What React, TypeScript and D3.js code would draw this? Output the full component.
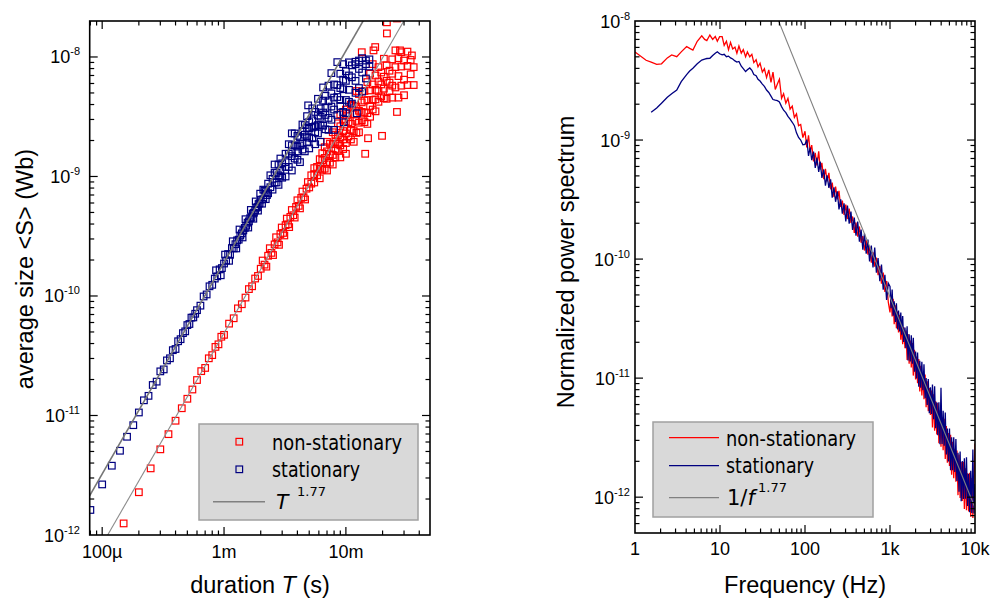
import * as d3 from "d3";

// avalanche durations in µs and average sizes in pWb (1e-12 Wb)
const stationaryAvalanches: [number, number][] = [
  [80, 1.62], [100, 2.65], [120, 3.8], [140, 5.07], [160, 6.64], [180, 8.3],
  [200, 10.6], [220, 13.4], [240, 14.6], [260, 18.0], [280, 19.2], [300, 23.4], [320, 24.3], [340, 28.9],
  [360, 30.1], [380, 35.2], [400, 36.0], [420, 41.8], [440, 43.5], [460, 48.9], [480, 50.6], [500, 57.1],
  [520, 58.3], [540, 65.9], [560, 66.2], [580, 71.0], [600, 76.1], [640, 83.0], [680, 99.1], [720, 103],
  [760, 120.5], [800, 124], [840, 139.8], [860, 164], [880, 146.1], [920, 167], [940, 149], [960, 171.2],
  [1000, 186.9], [1020, 222], [1040, 198], [1080, 224.5], [1100, 197], [1120, 221], [1160, 251.7], [1180, 287],
  [1200, 250.2], [1240, 271.3], [1260, 250], [1280, 292], [1320, 296], [1340, 360], [1360, 320.5], [1400, 334],
  [1420, 309], [1440, 354], [1480, 371.1], [1500, 439], [1520, 387], [1560, 411], [1580, 374], [1600, 421.2],
  [1640, 448], [1660, 525], [1680, 452.5], [1720, 489], [1740, 443], [1760, 497.5], [1800, 520], [1820, 618],
  [1840, 548], [1880, 555], [1900, 518], [1920, 588], [1960, 598.3], [1980, 718], [2000, 640], [2050, 592],
  [2100, 646], [2100, 776], [2150, 760], [2200, 741], [2200, 646], [2250, 699], [2300, 871], [2300, 724],
  [2400, 813], [2400, 1023], [2500, 955], [2500, 776], [2600, 1072], [2600, 891], [2600, 1259], [2700, 891],
  [2700, 1072], [2800, 1259], [2800, 1023], [2800, 851], [2900, 1122], [2900, 1413], [2900, 1000], [3000, 1288],
  [3000, 977], [3200, 1202], [3200, 1549], [3200, 1318], [3200, 1000], [3400, 1549], [3400, 1202], [3400, 1862],
  [3600, 1479], [3600, 1820], [3600, 1122], [3600, 1622], [3600, 2296], [3800, 1413], [3800, 1820], [3800, 2291],
  [4000, 1778], [4000, 1380], [4000, 2188], [4000, 1622], [4200, 2138], [4200, 1318], [4200, 1820],
  [4400, 1679], [4400, 2371], [4400, 2723], [4400, 1884], [4600, 2239], [4600, 1622], [4600, 2692],
  [4800, 2163], [4800, 1928], [4800, 2541], [4800, 3199], [4900, 3936], [5000, 2541], [5000, 1718], [5000, 2851],
  [5000, 2113], [5300, 2089], [5300, 2951], [5300, 2570], [5300, 3715], [5600, 2630], [5600, 1862], [5600, 3467],
  [5600, 2344], [5900, 3236], [5900, 2291], [5900, 4467], [5900, 2692], [6200, 2692], [6200, 3715], [6200, 1950],
  [6200, 3162], [6500, 4315], [6500, 2661], [6500, 3428], [6500, 5559], [6800, 2483], [6800, 3758], [6800, 3273],
  [6800, 4732], [7200, 4266], [7200, 3090], [7200, 5754], [7200, 2455], [7600, 3846], [7600, 4955], [7600, 2985],
  [7600, 7328], [8000, 3631], [8000, 5888], [8000, 4571], [8000, 2455], [8500, 4624], [8500, 3273], [8500, 5821],
  [8500, 9057], [9000, 3890], [9000, 5495], [9000, 7244], [9000, 4365], [9500, 5370], [9500, 3467], [9500, 8710],
  [9500, 6457], [9600, 2840], [10000, 4365], [10000, 6310], [10000, 7586], [10000, 3388], [10600, 5309],
  [10600, 9016], [10600, 4217], [10600, 6998], [11200, 6761], [11200, 4074], [11200, 8511], [12000, 6310],
  [12000, 8710], [12000, 5012], [12000, 9120], [12300, 3377], [12800, 7943], [12800, 5495], [12800, 9333],
  [13600, 7413], [13600, 9772], [13600, 5129], [14600, 8710], [14600, 6607], [14600, 9333], [15600, 8318],
  [15600, 9550],
];

const nonStationaryAvalanches: [number, number][] = [
  [150, 1.25], [200, 2.28], [250, 3.61], [300, 5.21], [350, 6.98], [400, 9.04], [450, 11.5], [500, 13.8],
  [550, 16.5], [600, 19.8], [650, 23.5], [700, 25.0], [750, 30.1], [800, 32.0], [850, 37.5], [900, 39.4],
  [950, 45.6], [1000, 47.3], [1100, 58.7], [1200, 65.1], [1300, 78.8], [1400, 85.3], [1500, 97.0], [1600, 114.2],
  [1700, 120.6], [1800, 140], [1900, 147.2], [2000, 169], [2075, 198], [2150, 183], [2225, 176], [2300, 217],
  [2375, 251], [2450, 229.5], [2525, 220], [2600, 270.2], [2675, 310], [2750, 281], [2825, 268], [2900, 330],
  [2975, 374], [3050, 337], [3125, 321], [3200, 392], [3275, 444], [3350, 398], [3425, 377], [3500, 459],
  [3600, 524], [3700, 474], [3800, 453], [3900, 556], [4000, 632], [4100, 568], [4200, 541], [4300, 662],
  [4400, 748], [4500, 670], [4625, 642], [4750, 790], [4875, 897], [5000, 810],
  [5200, 871], [5200, 1023], [5500, 1047], [5500, 891], [5500, 1175], [5800, 1023], [5800, 1202],
  [6100, 1161], [6100, 966], [6100, 1396], [6400, 1365], [6400, 1135], [6400, 1567], [6700, 1161], [6700, 1429],
  [6700, 1758], [7000, 1622], [7000, 1318], [7000, 1122], [7000, 1950], [7400, 1531], [7400, 1884], [7400, 1303],
  [7800, 1862], [7800, 1514], [7800, 2344], [7800, 1259], [8200, 1698], [8200, 2239], [8200, 1445], [8200, 1950],
  [8600, 2213], [8600, 1641], [8600, 2786], [8600, 1884], [9000, 1820], [9000, 2630], [9000, 2138], [9000, 1445],
  [9000, 3311], [9500, 2399], [9500, 1698], [9500, 3020], [9500, 2042], [10000, 2291], [10000, 2884],
  [10000, 1905], [10000, 3631], [10000, 1549], [10500, 2851], [10500, 2163], [10500, 3350], [11000, 2042],
  [11000, 2754], [11000, 3981], [11000, 2455], [11600, 3311], [11600, 2399], [11600, 3890], [11600, 1950],
  [12200, 2917], [12200, 3846], [12200, 2317], [12200, 5188], [12800, 3548], [12800, 2818], [12800, 4898],
  [12800, 2344], [13500, 2951], [13500, 4169], [13500, 3467], [13500, 10960], [14200, 4315], [14200, 2851],
  [14200, 5188], [14200, 3428], [14400, 1549], [15000, 3388], [15000, 4365], [15000, 6166], [15000, 2754],
  [15200, 2089], [15800, 5248], [15800, 3890], [15800, 7244], [15800, 3162], [16600, 4365], [16600, 5888],
  [16600, 3631], [16600, 8710], [16850, 11350], [17400, 12100], [17500, 5309], [17500, 3508], [17500, 6998],
  [17500, 4416], [18500, 4217], [18500, 6237], [18500, 8222], [18500, 5188], [19500, 5888], [19500, 7413],
  [19500, 4677], [19800, 2188], [20500, 6839], [20500, 4519], [20500, 9661], [20500, 5433], [21600, 4467],
  [21600, 6310], [21600, 8511], [21700, 19500], [21700, 15740], [22800, 7674], [22800, 5188], [22800, 6095],
  [24000, 7244], [24000, 4571], [24000, 9550], [24000, 5754], [25500, 5559], [25500, 8222], [25500, 11350],
  [26250, 3467], [26250, 21000], [27000, 6918], [27000, 4571], [27000, 9772], [27800, 11350], [28500, 8318],
  [28500, 5754], [28500, 10960], [30000, 6457], [30000, 9333], [30000, 4786], [32000, 8414], [32000, 5821],
  [32000, 11090], [34000, 7161], [34000, 9441], [34800, 10300], [36000, 8222], [36000, 5821],
];

// frequency in Hz and normalized power in units of 1e-12
const nonStationarySpectrum: [number, number][] = [
  [1, 5500], [1.35, 4680], [1.55, 4520], [1.8, 4320], [2.05, 4370], [2.4, 4900], [2.7, 5190], [3.1, 5010],
  [3.5, 5500], [4.05, 6100], [4.4, 5890], [4.8, 5690], [5.4, 6760], [6.1, 7500], [6.6, 7000], [7, 6840],
  [7.6, 7620], [8.2, 7000], [8.8, 7410], [9.3, 6760], [9.9, 7380], [10.6, 7380], [11.2, 6240], [11.9, 6760],
  [12.6, 5750], [13.3, 6610], [14.1, 5820], [15, 6030], [15.8, 5370], [16.7, 6170], [17.8, 5370], [18.8, 5750],
  [20, 5010], [21, 5500], [22.4, 5010], [23.7, 5250], [25, 4470], [26.6, 4730], [28, 4120], [29.6, 4420],
  [31.5, 3720], [33.3, 3980], [35.3, 3350], [37.5, 3890], [39.8, 3050], [42, 3720], [44.7, 2660], [47.3, 2950],
  [50, 3240], [53, 2240], [56, 2450], [59.5, 2040], [63, 2240], [66.8, 1820], [70.8, 1930], [75, 1550],
  [79.4, 1660], [84, 1320], [89, 1350], [94.4, 1050],
  [100, 1186], [105, 865], [110, 1096], [115, 800], [120, 908], [126, 662], [132, 780], [138, 612], [145, 805],
  [151, 566], [158, 643], [166, 469], [174, 573], [182, 450], [191, 530], [200, 386], [209, 439], [219, 332],
  [229, 406], [240, 318], [251, 375], [263, 274], [275, 310], [288, 235], [302, 287], [316, 217], [331, 265],
  [347, 201], [363, 228], [380, 166], [398, 203], [417, 154], [437, 188], [457, 137], [479, 156], [501, 118],
  [525, 144], [550, 109], [575, 128], [603, 93.5], [631, 114], [661, 86.3], [692, 103], [724, 73.3],
  [759, 87.5], [794, 62.2], [832, 77.1], [871, 53.0], [912, 65.5], [955, 43.4],
  [1000, 35.6], [1030, 49.2], [1060, 32.9], [1090, 46.3], [1120, 28.4], [1160, 40.9], [1190, 26.2], [1230, 36.2],
  [1260, 24.2], [1300, 34.1], [1340, 21.0], [1370, 30.2], [1410, 19.3], [1450, 26.7], [1500, 17.8], [1540, 25.1],
  [1590, 14.2], [1630, 23.5], [1680, 13.2], [1730, 20.7], [1780, 12.3], [1830, 19.7], [1880, 10.5], [1940, 17.3],
  [2000, 9.73], [2050, 15.2], [2110, 9.04], [2180, 14.5], [2240, 7.73], [2300, 12.7], [2370, 7.16], [2440, 11.2],
  [2510, 6.65], [2590, 10.7], [2660, 5.69], [2740, 9.4], [2820, 5.28], [2900, 8.24], [2990, 4.9], [3070, 7.87],
  [3160, 3.85], [3260, 7.31], [3350, 3.61], [3450, 6.38], [3550, 3.37], [3650, 6.17], [3760, 2.84], [3870, 5.38],
  [3980, 2.65], [4100, 4.7], [4220, 2.48], [4340, 4.55], [4470, 2.09], [4600, 3.96], [4730, 1.95], [4870, 3.46],
  [5010, 1.83], [5160, 3.35], [5310, 1.54], [5460, 2.92], [5620, 1.44], [5790, 2.55], [5960, 1.35], [6130, 2.47],
  [6310, 1.04], [6490, 2.28], [6680, 0.984], [6880, 1.97], [7080, 0.927], [7290, 1.98], [7500, 0.796],
  [7720, 1.75], [7940, 0.776], [8180, 1.59], [8410, 0.757], [8660, 1.6], [8910, 0.684], [9170, 1.45],
  [9440, 0.668], [9720, 1.39], [10000, 2.82],
];

const stationarySpectrum: [number, number][] = [
  [1.55, 1710], [1.8, 1860], [2.05, 2040], [2.4, 2290], [2.7, 2450], [3.1, 2630], [3.5, 3090], [4.05, 3550],
  [4.4, 3800], [4.8, 4010], [5.4, 4370], [6.1, 4700], [6.6, 4790], [7, 4840], [7.6, 4860], [8.2, 5130],
  [8.8, 5370], [9.3, 5520], [9.9, 5310], [10.6, 5190], [11.2, 5250], [11.9, 5010], [12.6, 5070], [13.3, 4900],
  [14.1, 4790], [15, 4620], [15.8, 4520], [16.7, 4570], [17.8, 4170], [18.8, 3980], [20, 3760], [21, 3890],
  [22.4, 4030], [23.7, 3850], [25, 3550], [26.6, 3470], [28, 3240], [29.6, 3130], [31.5, 2950], [33.3, 2820],
  [35.3, 2630], [37.5, 2510], [39.8, 2340], [42, 2190], [44.7, 2160], [47.3, 2140], [50, 2090], [53, 1910],
  [56, 1780], [59.5, 1700], [63, 1580], [66.8, 1500], [70.8, 1410], [75, 1320], [79.4, 1150], [84, 1050],
  [89, 1000], [94.4, 912],
  [100, 920], [105, 1007], [110, 735], [115, 865], [120, 679], [126, 800], [132, 583], [138, 713], [145, 540],
  [151, 659], [158, 481], [166, 566], [174, 413], [182, 505], [191, 396], [200, 467], [209, 328], [219, 401],
  [229, 303], [240, 371], [251, 261], [263, 318], [275, 241], [288, 294], [302, 207], [316, 281], [331, 198],
  [347, 251], [363, 176], [380, 223], [398, 157], [417, 207], [437, 140], [457, 177], [479, 120], [501, 164],
  [525, 111], [550, 146], [575, 95.5], [603, 130], [631, 85.1], [661, 125], [692, 76.7], [724, 102], [759, 65.2],
  [794, 89.9], [832, 55.3], [871, 73.8], [912, 45.3], [955, 62.7],
  [1000, 59.0], [1030, 38.6], [1060, 55.6], [1090, 33.5], [1120, 44.3], [1160, 29.6], [1190, 42.6], [1230, 25.6],
  [1260, 36.9], [1300, 24.7], [1340, 35.5], [1370, 23.2], [1410, 33.3], [1450, 20.1], [1500, 26.6], [1540, 17.8],
  [1590, 27.2], [1630, 14.1], [1680, 23.3], [1730, 13.8], [1780, 22.9], [1830, 13.2], [1880, 21.8], [1940, 11.3],
  [2000, 16.7], [2050, 9.91], [2110, 16.4], [2180, 8.47], [2240, 14.0], [2300, 8.3], [2370, 13.7], [2440, 7.93],
  [2510, 13.1], [2590, 6.78], [2660, 10.0], [2740, 5.96], [2820, 9.84], [2900, 5.08], [2990, 8.39], [3070, 4.99],
  [3160, 8.83], [3260, 4.51], [3350, 8.55], [3450, 3.8], [3550, 6.28], [3650, 3.31], [3760, 6.28], [3870, 2.79],
  [3980, 8.3], [4100, 2.8], [4220, 5.31], [4340, 2.71], [4470, 5.14], [4600, 2.28], [4730, 3.77], [4870, 1.99],
  [5010, 3.78], [5160, 1.68], [5310, 3.18], [5460, 1.68], [5620, 3.19], [5790, 1.63], [5960, 3.08], [6130, 1.37],
  [6310, 2.36], [6490, 1.11], [6680, 2.42], [6880, 0.923], [7080, 2.01], [7290, 0.964], [7500, 2.12],
  [7720, 0.968], [7940, 2.16], [8180, 0.843], [8410, 1.57], [8660, 0.748], [8910, 1.67], [9170, 0.736],
  [9440, 2.51], [9720, 0.729], [10000, 1.29],
];

const durationTicks = [1e-4, 1e-3, 1e-2];
const durationTickLabels = ["100µ", "1m", "10m"];
const sizeTickExponents = [-12, -11, -10, -9, -8];
const frequencyTicks = [1, 10, 100, 1000, 10000];
const frequencyTickLabels = ["1", "10", "100", "1k", "10k"];
const powerTickExponents = [-12, -11, -10, -9, -8];

// power-law guides
const fitExponent = 1.77;
const stationaryPrefactor = 3.9e-5;
const nonStationaryPrefactor = 1.0e-5;
const spectrumPrefactor = 9.8e-6;

const RED = "#ff0000";
const NAVY = "#000080";
const GRAY = "#808080";
const AXIS_FONT = "'Liberation Sans', Arial, sans-serif";
const LEGEND_FONT = "'DejaVu Sans', Verdana, sans-serif";

type LogScale = d3.ScaleLogarithmic<number, number>;

function isDecade(v: number) {
  const l = Math.log10(v);
  return Math.abs(l - Math.round(l)) < 1e-6;
}

function Frame({ x, y }: { x: LogScale; y: LogScale }) {
  const [x0, x1] = x.range();
  const [yb, yt] = y.range();
  const xt = x.ticks().filter((v) => x(v) >= x0 + 0.5 && x(v) <= x1 - 0.5);
  const yTicks = y.ticks().filter((v) => y(v) <= yb - 0.5 && y(v) >= yt + 0.5);
  return (
    <g stroke="#000" strokeWidth={1.2} fill="none">
      {xt.map((v) => {
        const p = x(v);
        const len = isDecade(v) ? 8 : 4.5;
        return (
          <g key={"x" + v}>
            <line x1={p} x2={p} y1={yb} y2={yb - len} />
            <line x1={p} x2={p} y1={yt} y2={yt + len} />
          </g>
        );
      })}
      {yTicks.map((v) => {
        const p = y(v);
        const len = isDecade(v) ? 8 : 4.5;
        return (
          <g key={"y" + v}>
            <line x1={x0} x2={x0 + len} y1={p} y2={p} />
            <line x1={x1} x2={x1 - len} y1={p} y2={p} />
          </g>
        );
      })}
      <rect x={x0} y={yt} width={x1 - x0} height={yb - yt} strokeWidth={1.6} />
    </g>
  );
}

function PowerLabels({ y, exps, right }: { y: LogScale; exps: number[]; right: number }) {
  return (
    <g fontFamily={AXIS_FONT} fontSize={18} fill="#000" textAnchor="end">
      {exps.map((e) => (
        <text key={e} x={right} y={y(Math.pow(10, e)) + 6.5}>
          10
          <tspan fontSize={11} dy={-8}>
            {e}
          </tspan>
        </text>
      ))}
    </g>
  );
}

function Square({ cx, cy, color }: { cx: number; cy: number; color: string }) {
  return <rect x={cx - 3.3} y={cy - 3.3} width={6.6} height={6.6} fill="none" stroke={color} strokeWidth={1.2} />;
}

export default function App() {
  // left: average avalanche size vs duration
  const xL = d3.scaleLog().domain([7.9e-5, 4.9e-2]).range([89.7, 430]);
  const yL = d3.scaleLog().domain([1e-12, 2e-8]).range([535, 21]);
  // right: power spectra
  const xR = d3.scaleLog().domain([1, 1e4]).range([635, 975]);
  const yR = d3.scaleLog().domain([5e-13, 1e-8]).range([533, 21]);

  const fitLine = (pref: number) =>
    d3
      .line<number>()
      .x((t) => xL(t))
      .y((t) => yL(pref * Math.pow(t, fitExponent)))(xL.domain());

  const spectrumLine = d3
    .line<[number, number]>()
    .x((d) => xR(d[0]))
    .y((d) => yR(d[1] * 1e-12));

  const spectrumFit = d3
    .line<number>()
    .x((f) => xR(f))
    .y((f) => yR(spectrumPrefactor / Math.pow(f, fitExponent)))([20, 1e4]);

  return (
    <svg
      width={992}
      height={598}
      style={{ position: "absolute", left: 0, top: 0, background: "#fff" }}
    >
      <defs>
        <clipPath id="clipL">
          <rect x={89.7} y={21} width={430 - 89.7} height={535 - 21} />
        </clipPath>
        <clipPath id="clipR">
          <rect x={635} y={21} width={340} height={512} />
        </clipPath>
      </defs>

      {/* left panel */}
      <g clipPath="url(#clipL)">
        {nonStationaryAvalanches.map((d, i) => (
          <Square key={"n" + i} cx={xL(d[0] * 1e-6)} cy={yL(d[1] * 1e-12)} color={RED} />
        ))}
        {stationaryAvalanches.map((d, i) => (
          <Square key={"s" + i} cx={xL(d[0] * 1e-6)} cy={yL(d[1] * 1e-12)} color={NAVY} />
        ))}
        <path d={fitLine(stationaryPrefactor) ?? ""} fill="none" stroke="#767676" strokeWidth={1.6} />
        <path d={fitLine(nonStationaryPrefactor) ?? ""} fill="none" stroke="#8c8c8c" strokeWidth={1.1} />
      </g>
      <Frame x={xL} y={yL} />
      <PowerLabels y={yL} exps={sizeTickExponents} right={80} />
      <g fontFamily={AXIS_FONT} fontSize={18} textAnchor="middle">
        {durationTicks.map((v, i) => (
          <text key={v} x={xL(v)} y={558}>
            {durationTickLabels[i]}
          </text>
        ))}
      </g>
      <text x={260} y={593} fontFamily={AXIS_FONT} fontSize={23.5} textAnchor="middle">
        duration <tspan fontStyle="italic">T</tspan> (s)
      </text>
      <text
        transform="translate(33,269) rotate(-90)"
        fontFamily={AXIS_FONT}
        fontSize={23.5}
        textAnchor="middle"
      >
        average size &lt;S&gt; (Wb)
      </text>

      <g>
        <rect x={199} y={424} width={219} height={96} fill="#d9d9d9" stroke="#a0a0a0" strokeWidth={1.5} />
        <Square cx={239.3} cy={441.7} color={RED} />
        <Square cx={239.3} cy={469.3} color={NAVY} />
        <line x1={213} x2={265} y1={501.7} y2={501.7} stroke={GRAY} strokeWidth={1.5} />
        <g fontFamily={LEGEND_FONT} fontSize={21}>
          <text x={272} y={450} textLength={130} lengthAdjust="spacingAndGlyphs">
            non-stationary
          </text>
          <text x={272} y={477.3} textLength={88} lengthAdjust="spacingAndGlyphs">
            stationary
          </text>
          <text x={275} y={509.3} fontFamily={AXIS_FONT} fontStyle="italic" fontSize={22}>
            T
          </text>
          <text x={297} y={496} fontSize={13}>
            1.77
          </text>
        </g>
      </g>

      {/* right panel */}
      <g clipPath="url(#clipR)">
        <path d={spectrumLine(nonStationarySpectrum) ?? ""} fill="none" stroke={RED} strokeWidth={1.3} />
        <path d={spectrumLine(stationarySpectrum) ?? ""} fill="none" stroke={NAVY} strokeWidth={1.3} />
        <path d={spectrumFit ?? ""} fill="none" stroke={GRAY} strokeWidth={1.1} />
      </g>
      <Frame x={xR} y={yR} />
      <PowerLabels y={yR} exps={powerTickExponents} right={630} />
      <g fontFamily={AXIS_FONT} fontSize={18} textAnchor="middle">
        {frequencyTicks.map((v, i) => (
          <text key={v} x={xR(v)} y={555}>
            {frequencyTickLabels[i]}
          </text>
        ))}
      </g>
      <text x={805} y={593} fontFamily={AXIS_FONT} fontSize={23.5} textAnchor="middle">
        Frequency (Hz)
      </text>
      <text
        transform="translate(574,262) rotate(-90)"
        fontFamily={AXIS_FONT}
        fontSize={23.5}
        textAnchor="middle"
      >
        Normalized power spectrum
      </text>

      <g>
        <rect x={653} y={422} width={220} height={95} fill="#d9d9d9" stroke="#a0a0a0" strokeWidth={1.5} />
        <line x1={669} x2={719} y1={437.7} y2={437.7} stroke={RED} strokeWidth={1.3} />
        <line x1={669} x2={719} y1={465.7} y2={465.7} stroke={NAVY} strokeWidth={1.3} />
        <line x1={669} x2={719} y1={497.7} y2={497.7} stroke={GRAY} strokeWidth={1.2} />
        <g fontFamily={LEGEND_FONT} fontSize={21}>
          <text x={726} y={445.7} textLength={130} lengthAdjust="spacingAndGlyphs">
            non-stationary
          </text>
          <text x={726} y={473.3} textLength={88} lengthAdjust="spacingAndGlyphs">
            stationary
          </text>
          <text x={727} y={505}>
            1/<tspan fontStyle="italic">f</tspan>
          </text>
          <text x={758} y={492} fontSize={13}>
            1.77
          </text>
        </g>
      </g>
    </svg>
  );
}
